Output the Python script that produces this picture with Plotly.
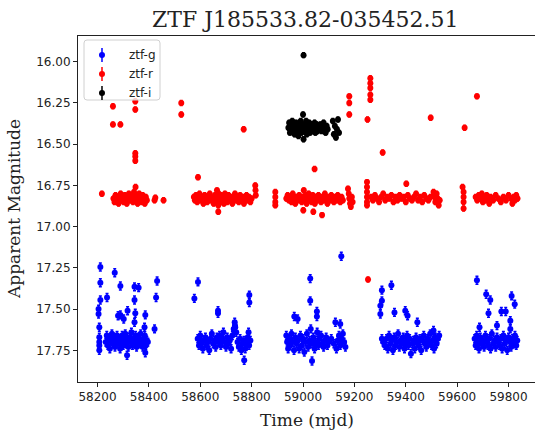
import plotly.graph_objects as go

# ---------------------------------------------------------------------------
# ZTF light curve of J185533.82-035452.51: (MJD, magnitude) per filter
# ---------------------------------------------------------------------------

# ztf-g
G_POINTS = [
    # 2018 season
    (58204, 17.50), (58204, 17.53), (58207, 17.61), (58207, 17.67), (58207, 17.70),
    (58207, 17.72), (58207, 17.75), (58211, 17.245), (58211, 17.34), (58211, 17.445),
    (58237, 17.43), (58267, 17.28), (58280, 17.54), (58289, 17.36), (58289, 17.535),
    (58302, 17.56), (58315, 17.78), (58317, 17.51), (58344, 17.365), (58344, 17.445),
    (58344, 17.58), (58347, 17.525), (58360, 17.37), (58383, 17.61), (58386, 17.535),
    (58386, 17.765), (58422, 17.62), (58428, 17.43), (58432, 17.33),
    (58232, 17.70), (58236, 17.66), (58240, 17.72), (58244, 17.68), (58248, 17.74),
    (58252, 17.69), (58256, 17.65), (58260, 17.71), (58264, 17.67), (58268, 17.73),
    (58272, 17.69), (58276, 17.66), (58280, 17.71), (58284, 17.68), (58288, 17.74),
    (58292, 17.70), (58296, 17.66), (58300, 17.72), (58304, 17.68), (58308, 17.65),
    (58312, 17.71), (58316, 17.69), (58320, 17.73), (58324, 17.67), (58328, 17.70),
    (58332, 17.64), (58336, 17.72), (58340, 17.68), (58344, 17.71), (58348, 17.66),
    (58352, 17.73), (58356, 17.69), (58360, 17.67), (58364, 17.71), (58368, 17.65),
    (58372, 17.70), (58376, 17.73), (58380, 17.68), (58384, 17.66), (58388, 17.72),
    (58392, 17.69), (58396, 17.70),
    # 2019 season
    (58591, 17.335), (58577, 17.435), (58669, 17.51), (58669, 17.525), (58791, 17.415),
    (58791, 17.46), (58734, 17.58), (58736, 17.61), (58788, 17.64), (58771, 17.81),
    (58590, 17.68), (58595, 17.72), (58600, 17.66), (58605, 17.70), (58610, 17.74),
    (58615, 17.69), (58620, 17.67), (58625, 17.72), (58630, 17.70), (58635, 17.75),
    (58640, 17.68), (58645, 17.65), (58650, 17.71), (58655, 17.69), (58660, 17.73),
    (58665, 17.67), (58670, 17.70), (58675, 17.66), (58680, 17.72), (58685, 17.68),
    (58690, 17.64), (58695, 17.70), (58700, 17.73), (58705, 17.67), (58710, 17.71),
    (58715, 17.69), (58720, 17.74), (58725, 17.66), (58730, 17.62), (58735, 17.60),
    (58740, 17.64), (58745, 17.70), (58750, 17.73), (58755, 17.68), (58760, 17.75),
    (58765, 17.71), (58770, 17.69), (58775, 17.74), (58780, 17.70), (58785, 17.67),
    (58790, 17.72), (58795, 17.69),
    # 2020 season
    (58966, 17.545), (58979, 17.56), (59149, 17.18), (59028, 17.315), (59028, 17.45),
    (59054, 17.515), (59054, 17.545), (59126, 17.58), (59145, 17.59), (59035, 17.815),
    (58935, 17.66), (58938, 17.70), (58942, 17.74), (58946, 17.68), (58950, 17.72),
    (58955, 17.65), (58960, 17.70), (58965, 17.75), (58970, 17.67), (58975, 17.71),
    (58980, 17.69), (58985, 17.74), (58990, 17.66), (58995, 17.72), (59000, 17.68),
    (59005, 17.76), (59010, 17.70), (59015, 17.65), (59020, 17.73), (59025, 17.69),
    (59030, 17.62), (59035, 17.71), (59040, 17.67), (59045, 17.74), (59050, 17.70),
    (59055, 17.64), (59060, 17.72), (59065, 17.68), (59070, 17.66), (59075, 17.71),
    (59080, 17.73), (59085, 17.69), (59090, 17.67), (59095, 17.72), (59100, 17.70),
    (59110, 17.68), (59120, 17.71), (59130, 17.74), (59135, 17.69), (59140, 17.66),
    (59145, 17.72), (59150, 17.68), (59155, 17.65), (59160, 17.70), (59165, 17.73),
    # 2021 season
    (59307, 17.385), (59344, 17.355), (59307, 17.45), (59301, 17.48), (59301, 17.53),
    (59356, 17.52), (59398, 17.51), (59407, 17.54), (59445, 17.58), (59307, 17.68),
    (59420, 17.77), (59508, 17.63),
    (59312, 17.70), (59318, 17.72), (59325, 17.68), (59330, 17.74), (59335, 17.66),
    (59340, 17.71), (59345, 17.69), (59350, 17.75), (59355, 17.67), (59360, 17.72),
    (59365, 17.70), (59370, 17.65), (59375, 17.73), (59380, 17.69), (59385, 17.71),
    (59390, 17.67), (59395, 17.74), (59400, 17.70), (59405, 17.66), (59410, 17.72),
    (59415, 17.68), (59425, 17.71), (59430, 17.69), (59435, 17.74), (59440, 17.67),
    (59445, 17.70), (59450, 17.72), (59455, 17.68), (59460, 17.75), (59465, 17.69),
    (59470, 17.66), (59475, 17.71), (59480, 17.73), (59485, 17.68), (59490, 17.70),
    (59495, 17.65), (59500, 17.72), (59505, 17.69), (59510, 17.74), (59515, 17.67),
    (59520, 17.71), (59525, 17.68), (59530, 17.66),
    # 2022 season
    (59677, 17.325), (59713, 17.41), (59729, 17.445), (59812, 17.42), (59824, 17.47),
    (59722, 17.525), (59772, 17.515), (59789, 17.515), (59687, 17.61), (59755, 17.60),
    (59807, 17.57), (59807, 17.62),
    (59668, 17.68), (59672, 17.72), (59676, 17.66), (59680, 17.70), (59685, 17.74),
    (59690, 17.67), (59695, 17.71), (59700, 17.69), (59705, 17.73), (59710, 17.66),
    (59715, 17.70), (59720, 17.72), (59725, 17.68), (59730, 17.74), (59735, 17.65),
    (59740, 17.71), (59745, 17.69), (59750, 17.73), (59755, 17.67), (59760, 17.70),
    (59765, 17.72), (59770, 17.68), (59775, 17.74), (59780, 17.66), (59785, 17.71),
    (59790, 17.69), (59795, 17.75), (59800, 17.67), (59805, 17.70), (59810, 17.73),
    (59815, 17.68), (59820, 17.71), (59825, 17.66), (59830, 17.72), (59834, 17.69),
]

# ztf-r
R_POINTS = [
    # 2018 season
    (58217, 16.80),
    (58262, 16.83), (58266, 16.85), (58270, 16.81), (58274, 16.84), (58278, 16.82),
    (58282, 16.86), (58286, 16.83), (58290, 16.80), (58294, 16.84), (58298, 16.82),
    (58302, 16.85), (58306, 16.81), (58310, 16.83), (58314, 16.86), (58318, 16.82),
    (58322, 16.80), (58326, 16.84), (58330, 16.83), (58334, 16.81), (58338, 16.85),
    (58342, 16.79), (58345, 16.82), (58348, 16.76), (58350, 16.84), (58353, 16.81),
    (58356, 16.86), (58359, 16.83), (58362, 16.80), (58365, 16.84), (58368, 16.82),
    (58372, 16.85), (58376, 16.81), (58380, 16.83), (58384, 16.86), (58388, 16.82),
    (58392, 16.84), (58422, 16.84), (58425, 16.825), (58457, 16.84),
    (58260, 16.27), (58347, 16.24), (58347, 16.29), (58260, 16.38), (58289, 16.38),
    (58347, 16.555), (58347, 16.575), (58347, 16.60),
    # 2019 season
    (58526, 16.25), (58526, 16.32), (58769, 16.41), (58591, 16.70),
    (58575, 16.82), (58579, 16.84), (58583, 16.81), (58588, 16.85), (58592, 16.83),
    (58597, 16.80), (58602, 16.84), (58607, 16.82), (58612, 16.86), (58617, 16.81),
    (58622, 16.83), (58627, 16.85), (58632, 16.82), (58637, 16.80), (58642, 16.84),
    (58647, 16.83), (58652, 16.86), (58657, 16.81), (58662, 16.84), (58665, 16.78),
    (58667, 16.82), (58670, 16.87), (58672, 16.80), (58675, 16.83), (58678, 16.85),
    (58681, 16.81), (58684, 16.84), (58688, 16.82), (58692, 16.86), (58696, 16.80),
    (58700, 16.83), (58705, 16.85), (58710, 16.81), (58715, 16.84), (58720, 16.82),
    (58725, 16.86), (58730, 16.83), (58735, 16.80), (58740, 16.84), (58745, 16.82),
    (58750, 16.85), (58755, 16.81), (58760, 16.84), (58765, 16.82), (58770, 16.86),
    (58775, 16.83), (58780, 16.81), (58785, 16.84), (58790, 16.82), (58795, 16.85),
    (58800, 16.83), (58670, 16.91), (58814, 16.75), (58815, 16.78), (58816, 16.81),
    # 2020 season
    (58892, 16.79), (58892, 16.82), (58892, 16.85), (58892, 16.87),
    (58935, 16.83), (58940, 16.81), (58945, 16.84), (58950, 16.82), (58955, 16.85),
    (58960, 16.80), (58965, 16.83), (58970, 16.86), (58975, 16.82), (58980, 16.84),
    (58985, 16.81), (58990, 16.83), (58995, 16.85), (59000, 16.82), (59003, 16.78),
    (59006, 16.84), (59010, 16.81), (59014, 16.86), (59018, 16.83), (59022, 16.80),
    (59026, 16.84), (59030, 16.82), (59034, 16.85), (59038, 16.81), (59042, 16.83),
    (59046, 16.86), (59050, 16.82), (59055, 16.84), (59060, 16.81), (59065, 16.83),
    (59070, 16.85), (59075, 16.82), (59080, 16.84), (59085, 16.80), (59090, 16.83),
    (59095, 16.86), (59100, 16.82), (59105, 16.84), (59110, 16.81), (59115, 16.83),
    (59120, 16.85), (59125, 16.82), (59130, 16.84), (59135, 16.81), (59140, 16.83),
    (59145, 16.85), (59150, 16.82), (59155, 16.84),
    (59175, 16.77), (59178, 16.80), (59180, 16.83), (59183, 16.86), (59186, 16.88),
    (59190, 16.82), (59193, 16.85),
    (59001, 16.90), (59040, 16.91), (59074, 16.93), (59045, 16.65),
    (59180, 16.21), (59180, 16.25), (59180, 16.32),
    # 2021 season
    (59262, 16.10), (59262, 16.13), (59262, 16.16), (59262, 16.20), (59262, 16.23),
    (59251, 16.35), (59310, 16.55), (59497, 16.34), (59253, 17.32),
    (59249, 16.73), (59249, 16.76), (59249, 16.79), (59249, 16.82), (59249, 16.85),
    (59249, 16.87),
    (59265, 16.82), (59272, 16.84), (59280, 16.81), (59288, 16.83), (59296, 16.85),
    (59304, 16.82), (59312, 16.80), (59320, 16.84), (59328, 16.82), (59336, 16.83),
    (59344, 16.81), (59352, 16.85), (59360, 16.82), (59368, 16.84), (59376, 16.81),
    (59384, 16.83), (59392, 16.82), (59400, 16.85), (59408, 16.81), (59416, 16.83),
    (59424, 16.84), (59432, 16.82), (59440, 16.80), (59448, 16.84), (59456, 16.82),
    (59464, 16.85), (59472, 16.81), (59480, 16.83), (59488, 16.84), (59496, 16.82),
    (59402, 16.74),
    (59508, 16.79), (59512, 16.82), (59515, 16.85), (59520, 16.80), (59524, 16.83),
    (59528, 16.87), (59532, 16.84),
    # 2022 season
    (59629, 16.40), (59677, 16.21),
    (59621, 16.76), (59625, 16.79), (59625, 16.82), (59625, 16.85), (59625, 16.89),
    (59672, 16.82), (59678, 16.84), (59684, 16.81), (59690, 16.83), (59696, 16.80),
    (59700, 16.85), (59705, 16.82), (59710, 16.84), (59715, 16.81), (59720, 16.83),
    (59725, 16.86), (59730, 16.82), (59740, 16.84), (59750, 16.81), (59760, 16.83),
    (59770, 16.85), (59780, 16.82), (59790, 16.84), (59800, 16.81), (59810, 16.83),
    (59815, 16.86), (59820, 16.82), (59825, 16.84), (59830, 16.81), (59835, 16.83),
]

# ztf-i
I_POINTS = [
    (59002, 15.96),
    (58943, 16.40), (58946, 16.37), (58949, 16.43), (58952, 16.39), (58955, 16.42),
    (58958, 16.36), (58961, 16.41), (58964, 16.38), (58967, 16.44), (58970, 16.40),
    (58973, 16.37), (58976, 16.42), (58979, 16.39), (58982, 16.45), (58985, 16.38),
    (58988, 16.41), (58991, 16.36), (58994, 16.43), (58997, 16.40), (59000, 16.32),
    (59002, 16.47), (59004, 16.38), (59006, 16.42), (59009, 16.40), (59012, 16.36),
    (59015, 16.44), (59018, 16.39), (59021, 16.41), (59024, 16.37), (59027, 16.43),
    (59030, 16.40), (59033, 16.38), (59036, 16.42), (59039, 16.39), (59042, 16.41),
    (59045, 16.37), (59048, 16.43), (59051, 16.40), (59054, 16.38), (59057, 16.42),
    (59060, 16.39), (59064, 16.41), (59068, 16.38), (59072, 16.42), (59076, 16.40),
    (59080, 16.37), (59084, 16.41), (59088, 16.43), (59092, 16.39), (59096, 16.41),
    (59116, 16.36), (59120, 16.44), (59124, 16.39), (59128, 16.46), (59132, 16.41),
    (59136, 16.35), (59140, 16.43),
]

# typical photometric uncertainty per filter (mag)
G_ERR = 0.024
R_ERR = 0.015
I_ERR = 0.015

SERIES = [
    ("ztf-g", G_POINTS, G_ERR, "#0000ff"),
    ("ztf-r", R_POINTS, R_ERR, "#ff0000"),
    ("ztf-i", I_POINTS, I_ERR, "#000000"),
]

X_TICKS = [58200, 58400, 58600, 58800, 59000, 59200, 59400, 59600, 59800]
Y_TICKS = [16.00, 16.25, 16.50, 16.75, 17.00, 17.25, 17.50, 17.75]

SERIF = "DejaVu Serif"
SANS = "DejaVu Sans"

fig = go.Figure()
for name, pts, err, color in SERIES:
    mjd = [p[0] for p in pts]
    mag = [p[1] for p in pts]
    fig.add_trace(go.Scatter(
        x=mjd, y=mag, mode="markers", name=name, showlegend=False,
        marker=dict(color=color, size=6, line=dict(width=0)),
        error_y=dict(type="constant", value=err, color=color,
                     thickness=1.5, width=1.5),
    ))

# --- errorbar-style legend box in the upper-left corner (paper coords) ---
LEG_CX, LEG_CY = 0.0963, 0.9017          # centre of the frame
LEG_SYMBOL_X, LEG_TEXT_X = 0.0525, 0.1072
LEG_ROWS_Y = [0.945, 0.890, 0.835]

shapes = [dict(
    type="path", xref="paper", yref="paper", xsizemode="pixel", ysizemode="pixel",
    xanchor=LEG_CX, yanchor=LEG_CY, layer="above",
    path=("M -35,-30 L 35,-30 Q 38,-30 38,-27 L 38,27 Q 38,30 35,30 "
          "L -35,30 Q -38,30 -38,27 L -38,-27 Q -38,-30 -35,-30 Z"),
    fillcolor="rgba(255,255,255,0.8)", line=dict(color="#d0d0d0", width=1),
)]
annotations = []
for (name, _, _, color), ly in zip(SERIES, LEG_ROWS_Y):
    shapes.append(dict(
        type="line", xref="paper", yref="paper", xsizemode="pixel",
        ysizemode="pixel", xanchor=LEG_SYMBOL_X, yanchor=ly, layer="above",
        x0=0, x1=0, y0=-7, y1=7, line=dict(color=color, width=1.5)))
    shapes.append(dict(
        type="circle", xref="paper", yref="paper", xsizemode="pixel",
        ysizemode="pixel", xanchor=LEG_SYMBOL_X, yanchor=ly, layer="above",
        x0=-3, x1=3, y0=-3, y1=3, fillcolor=color, line=dict(color=color, width=0)))
    annotations.append(dict(
        text=name, xref="paper", yref="paper", x=LEG_TEXT_X, y=ly,
        xanchor="left", yanchor="middle", showarrow=False,
        font=dict(family=SANS, size=12, color="#222222")))

annotations += [
    dict(text="ZTF J185533.82-035452.51", xref="paper", yref="paper",
         x=0.496, y=1.049, xanchor="center", yanchor="middle",
         showarrow=False, font=dict(family=SERIF, size=22, color="#222222")),
    dict(text="Time (mjd)", xref="paper", yref="paper",
         x=0.502, y=-0.111, xanchor="center", yanchor="middle",
         showarrow=False, font=dict(family=SERIF, size=17, color="#222222")),
    dict(text="Apparent Magnitude", xref="paper", yref="paper",
         x=-0.14, y=0.5, xanchor="center", yanchor="middle", textangle=-90,
         showarrow=False, font=dict(family=SERIF, size=17, color="#222222")),
]

axis_common = dict(
    showgrid=False, zeroline=False, showline=True, linecolor="#222222",
    linewidth=1, ticks="outside", ticklen=4, tickwidth=1, tickcolor="#222222",
    tickfont=dict(family=SANS, size=12, color="#222222"),
)

fig.update_layout(
    width=535, height=434,
    margin=dict(l=78, r=0, t=36, b=52),
    paper_bgcolor="white", plot_bgcolor="white",
    showlegend=False,
    xaxis=dict(axis_common, range=[58124, 59903], tickvals=X_TICKS,
               ticktext=[str(v) for v in X_TICKS], mirror=True),
    yaxis=dict(axis_common, range=[17.942, 15.844], tickvals=Y_TICKS,
               ticktext=[f"{v:.2f}" for v in Y_TICKS], mirror=False),
    shapes=shapes,
    annotations=annotations,
)

fig.write_html("out.html")
